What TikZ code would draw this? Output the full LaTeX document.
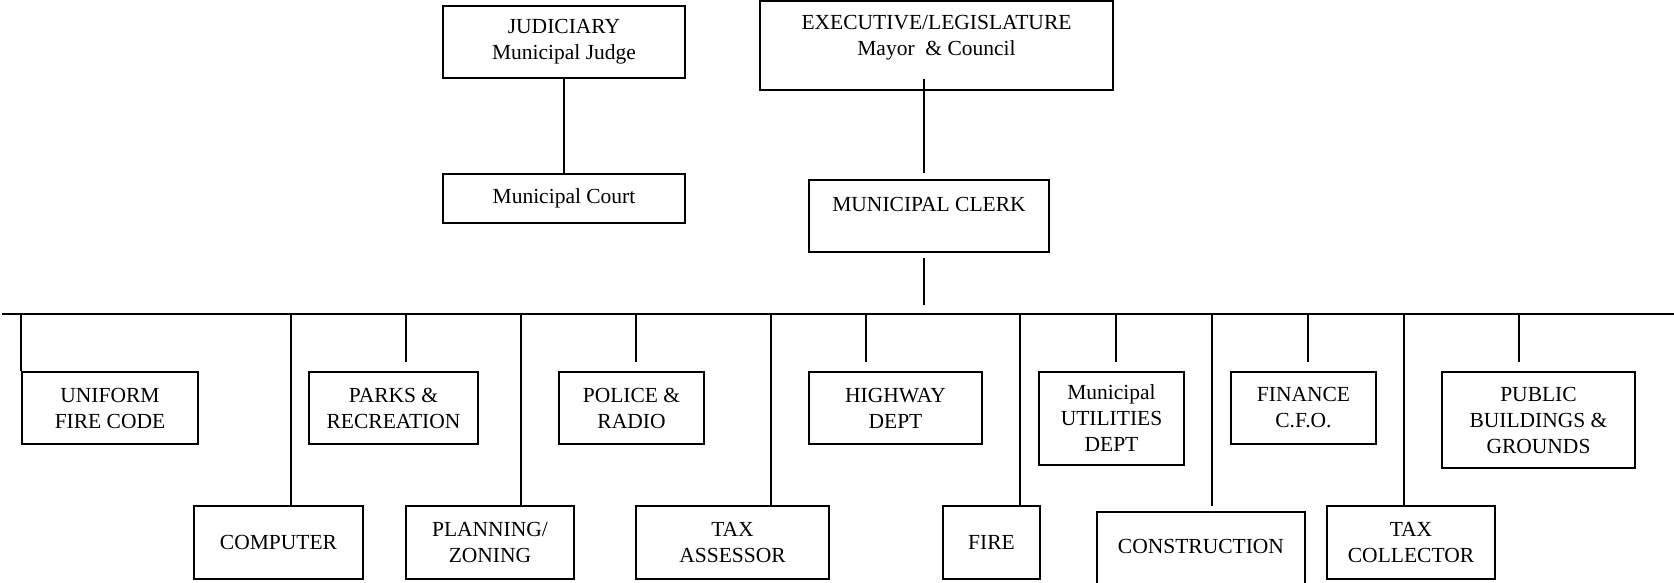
\documentclass[tikz,border=0pt]{standalone}
\usepackage{fontspec}
\setmainfont{Liberation Serif}
\begin{document}
\begin{tikzpicture}[x=1pt,y=-1pt,
  box/.style={draw, line width=1.7pt, inner sep=0pt, align=center,
    font=\fontsize{21.5}{26}\selectfont},
  txt/.style={inner sep=0pt, align=center, font=\fontsize{21.5}{26}\selectfont},
  conn/.style={line width=1.7pt}]
\useasboundingbox (0,0) rectangle (1674,582);
% top boxes
\node[box, minimum width=242pt, minimum height=72pt] (judic) at (564,42) {JUDICIARY\\Municipal Judge};
\node[box, minimum width=242pt, minimum height=49pt] (court) at (564,198.5) {Municipal Court};
\node[box, minimum width=353pt, minimum height=89pt] (exec) at (936.5,45.5) {};
\node[txt] (execT) at (936.5,37.7) {EXECUTIVE/LEGISLATURE\\Mayor~~\& Council};
\node[box, minimum width=240pt, minimum height=72pt] (clerk) at (929,216) {};
\node[txt] (clerkT) at (929,204.6) {MUNICIPAL CLERK};
% departments, upper row
\node[box, minimum width=176pt, minimum height=72pt] (uniform) at (110,408) {UNIFORM\\FIRE CODE};
\node[box, minimum width=169pt, minimum height=72pt] (parks) at (393.5,408) {PARKS \&\\RECREATION};
\node[box, minimum width=145pt, minimum height=72pt] (police) at (631.5,408) {POLICE \&\\RADIO};
\node[box, minimum width=173pt, minimum height=72pt] (highway) at (895.5,408) {HIGHWAY\\DEPT};
\node[box, minimum width=145pt, minimum height=93pt] (util) at (1111.5,418.5) {Municipal\\UTILITIES\\DEPT};
\node[box, minimum width=145pt, minimum height=72pt] (finance) at (1303.5,408) {FINANCE\\C.F.O.};
\node[box, minimum width=193pt, minimum height=96pt] (public) at (1538.5,420) {PUBLIC\\BUILDINGS \&\\GROUNDS};
% departments, lower row
\node[box, minimum width=169pt, minimum height=73pt] (computer) at (278.5,542.5) {COMPUTER};
\node[box, minimum width=168pt, minimum height=73pt] (planning) at (490,542.5) {PLANNING/\\ZONING};
\node[box, minimum width=193pt, minimum height=73pt] (taxass) at (732.5,542.5) {TAX\\ASSESSOR};
\node[box, minimum width=97pt, minimum height=73pt] (fire) at (991.5,542.5) {FIRE};
\node[box, minimum width=208pt, minimum height=100pt] (constr) at (1201,562) {};
\node[txt] (constrT) at (1201,546.7) {CONSTRUCTION};
\node[box, minimum width=168pt, minimum height=73pt] (taxcol) at (1411,542.5) {TAX\\COLLECTOR};
% bus
\coordinate (busL) at (2,314);
\coordinate (busR) at (1674,314);
\draw[conn] (busL) -- (busR);
% connectors
\draw[conn] (judic.south) -- (court.north);
\draw[conn] ([xshift=-12.5pt,yshift=12pt]exec.south) -- ([xshift=-5pt,yshift=6pt]clerk.north);
\draw[conn] ([xshift=-5pt]clerk.south |- busL) ++(0,-9) -- ([xshift=-5pt,yshift=-5pt]clerk.south);
\draw[conn] (uniform.north west |- busL) -- (uniform.north west);
\draw[conn] ([xshift=12.5pt]computer.north |- busL) -- ([xshift=12.5pt]computer.north);
\draw[conn] ([xshift=12.5pt]parks.north |- busL) -- ([xshift=12.5pt,yshift=9pt]parks.north);
\draw[conn] ([xshift=31pt]planning.north |- busL) -- ([xshift=31pt]planning.north);
\draw[conn] ([xshift=4.5pt]police.north |- busL) -- ([xshift=4.5pt,yshift=9pt]police.north);
\draw[conn] ([xshift=38.5pt]taxass.north |- busL) -- ([xshift=38.5pt]taxass.north);
\draw[conn] ([xshift=-29.5pt]highway.north |- busL) -- ([xshift=-29.5pt,yshift=9pt]highway.north);
\draw[conn] ([xshift=28.5pt]fire.north |- busL) -- ([xshift=28.5pt]fire.north);
\draw[conn] ([xshift=4.5pt]util.north |- busL) -- ([xshift=4.5pt,yshift=9pt]util.north);
\draw[conn] ([xshift=11pt]constr.north |- busL) -- ([xshift=11pt,yshift=5pt]constr.north);
\draw[conn] ([xshift=4.5pt]finance.north |- busL) -- ([xshift=4.5pt,yshift=9pt]finance.north);
\draw[conn] ([xshift=-7pt]taxcol.north |- busL) -- ([xshift=-7pt]taxcol.north);
\draw[conn] ([xshift=-19.5pt]public.north |- busL) -- ([xshift=-19.5pt,yshift=9pt]public.north);
\end{tikzpicture}
\end{document}
